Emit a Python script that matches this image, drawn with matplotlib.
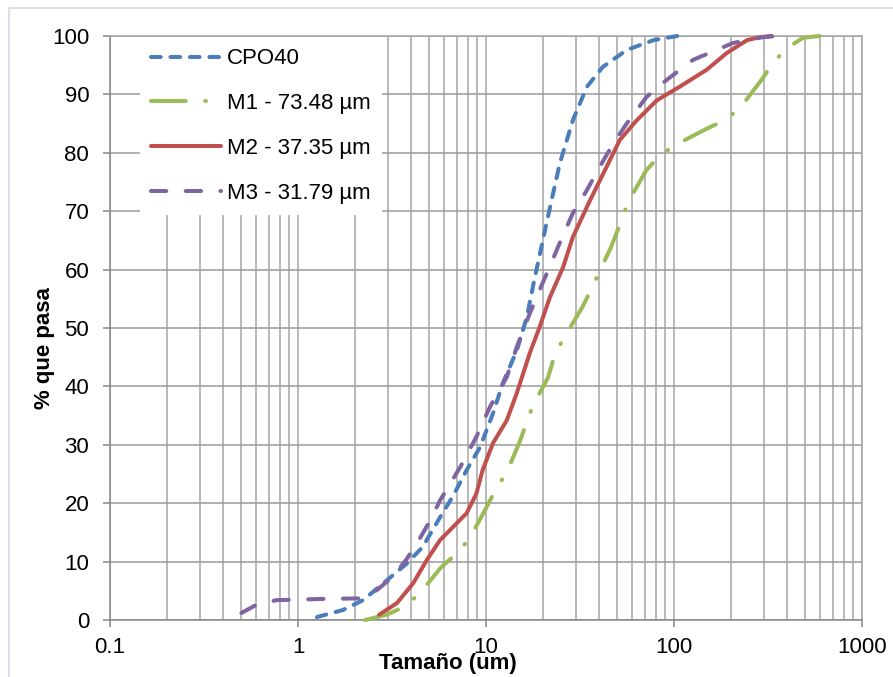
"""Curvas granulométricas: CPO40 y mezclas M1-M3 (% que pasa vs tamaño)."""
import matplotlib
matplotlib.use("Agg")
import matplotlib.pyplot as plt
import matplotlib.patches as mpatches
from matplotlib.ticker import LogLocator, FixedLocator, NullFormatter

plt.rcParams["font.family"] = ["Liberation Sans", "DejaVu Sans"]
plt.rcParams["lines.scale_dashes"] = False

# valores
CPO40_X = [1.26, 1.73, 2.22, 2.97, 3.8, 4.6, 5.7, 6.7, 7.9, 9.3, 10.9, 12.3, 14.6, 16.5,
           18.0, 19.3, 21.0, 24.7, 29.0, 34.4, 41.8, 56, 78, 104]
CPO40_Y = [0.5, 1.7, 3.4, 6.8, 9.7, 12.5, 17.6, 21.3, 25.7, 29.6, 35.4, 40.6, 46.2, 51.9,
           58.0, 62.5, 68.0, 78.2, 85.6, 91.3, 94.7, 97.6, 99.3, 100]

M1_X = [2.27, 2.96, 3.7, 4.45, 5.8, 7.0, 8.2, 10.1, 11.2, 12.9, 15.1, 16.4, 17.8, 21.3,
        23.4, 26.2, 32.6, 36.5, 40.5, 45.6, 48.6, 52.6, 57, 71.2, 84, 101, 151, 187, 225,
        297, 336, 398, 486, 595]
M1_Y = [0, 0.9, 2.3, 4.6, 9.1, 11.4, 14.0, 19.4, 22.2, 25.3, 30.5, 33.7, 36.8, 41.4,
        45.7, 48.5, 53.6, 56.8, 59.9, 63.4, 65.6, 68.5, 71.6, 77.0, 79.5, 81.3, 84.2, 85.6,
        87.7, 92.8, 95.4, 97.9, 99.7, 100]

M2_X = [2.7, 3.36, 4.1, 4.85, 5.7, 7.0, 7.9, 8.9, 9.6, 10.9, 12.9, 14.6, 17.1, 19.3, 21.9,
        25.7, 29, 35.8, 43.8, 51.5, 63.5, 81.2, 107, 149, 191, 245, 287, 330]
M2_Y = [0.9, 2.9, 6.3, 10.3, 13.7, 16.6, 18.3, 21.7, 25.7, 30.3, 34.2, 38.9, 45.7, 50.2,
        55.3, 60.4, 65.6, 71.9, 77.6, 82.2, 85.6, 89.0, 91.3, 94.2, 97.1, 99.3, 99.8, 100]

M3_X = [0.50, 0.60, 0.77, 1.31, 2.14, 2.62, 3.2, 3.8, 4.45, 5.0, 5.7, 7.3, 8.9, 10.5, 12.9,
        14.6, 17.1, 20.0, 21.1, 24.7, 29, 34.4, 41.8, 47.4, 56, 71.6, 91.6, 126, 206, 297, 355]
M3_Y = [1.2, 2.6, 3.4, 3.6, 3.7, 5.1, 7.4, 10.5, 14.0, 16.8, 20.5, 26.2, 31.4, 36.5, 41.6,
        46.8, 52.5, 57.7, 59.4, 64.6, 69.7, 73.6, 78.5, 81.5, 85.0, 89.6, 92.5, 95.9, 98.8,
        99.8, 100]

AZUL, VERDE, ROJO, MORADO = "#4A7EBB", "#9BBB59", "#C0504D", "#8064A2"
GRIS = "#A6A6A6"

W, H = 893, 677
fig = plt.figure(figsize=(W / 100, H / 100), dpi=100)
ax = fig.add_axes([110 / W, (H - 620) / H, (862 - 110) / W, (620 - 36) / H])

# marco del área del gráfico
fig.patches.append(mpatches.Rectangle((9 / W, -0.1), 2, 1.1 - 8 / H, transform=fig.transFigure,
                                      fill=False, ec="#D5DAEA", lw=1.2))

LW = 2.9
kw = dict(lw=LW, solid_capstyle="round", dash_capstyle="round", clip_on=False, zorder=4)
ax.plot(CPO40_X, CPO40_Y, color=AZUL, ls=(0, (7, 7)), label="CPO40", **kw)
ax.plot(M1_X, M1_Y, color=VERDE, ls=(0, (25, 14, 0.6, 14)), label="M1 - 73.48 µm", **kw)
ax.plot(M2_X, M2_Y, color=ROJO, ls="-", label="M2 - 37.35 µm", **kw)
ax.plot(M3_X, M3_Y, color=MORADO, ls=(0, (11, 14)), label="M3 - 31.79 µm", **kw)

ax.set_xscale("log")
ax.set_xlim(0.1, 1000)
ax.set_ylim(0, 100)
ax.xaxis.set_major_locator(FixedLocator([0.1, 1, 10, 100, 1000]))
ax.set_xticklabels(["0.1", "1", "10", "100", "1000"])
ax.xaxis.set_minor_locator(LogLocator(base=10, subs=range(2, 10)))
ax.xaxis.set_minor_formatter(NullFormatter())
ax.set_yticks(range(0, 101, 10))

ax.grid(True, which="both", axis="x", color=GRIS, lw=1.1)
ax.grid(True, which="major", axis="y", color="#9A9A9A", lw=1.1)
ax.set_axisbelow(True)

ax.tick_params(axis="both", which="major", direction="out", length=5, width=1.1,
               color="#868686", labelsize=16, labelcolor="black")
ax.tick_params(axis="y", pad=10)
ax.tick_params(axis="x", pad=7)
ax.tick_params(axis="x", which="minor", length=0)
for lado in ("left", "bottom"):
    ax.spines[lado].set_color("#868686")
    ax.spines[lado].set_linewidth(1.1)
for lado in ("top", "right"):
    ax.spines[lado].set_color(GRIS)
    ax.spines[lado].set_linewidth(1.1)

ax.set_xlabel("Tamaño (um)", fontsize=16, weight="bold")
ax.xaxis.set_label_coords(0.449, -0.056)
ax.set_ylabel("% que pasa", fontsize=16, weight="bold")
ax.yaxis.set_label_coords(-0.073, 0.466)

leg = ax.legend(loc="upper left", bbox_to_anchor=(0.04, 0.998), borderaxespad=0,
                fontsize=16, frameon=True, fancybox=False, framealpha=1,
                handlelength=3.15, handletextpad=0.25, labelspacing=1.07,
                borderpad=0.5)
leg.get_frame().set_edgecolor("white")
leg.get_frame().set_linewidth(0)
leg.set_zorder(5)

fig.savefig("out.png", dpi=100)
